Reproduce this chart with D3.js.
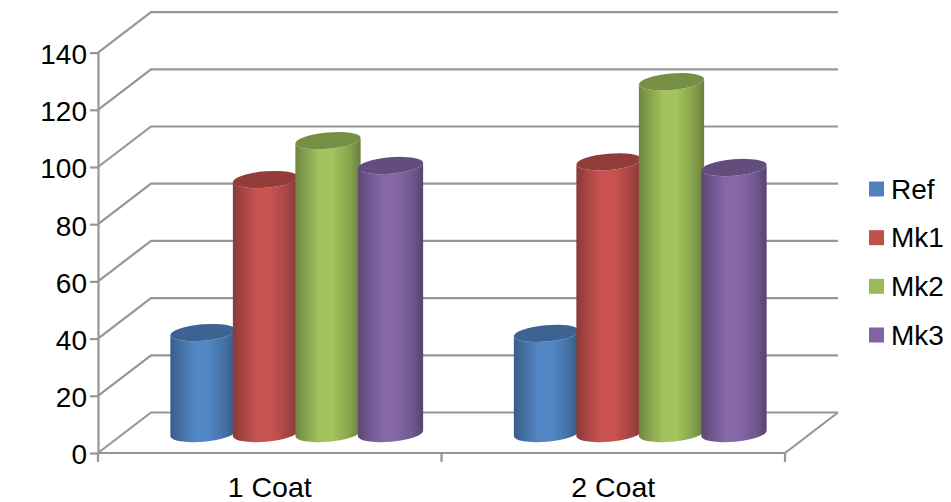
<!DOCTYPE html>
<html>
<head>
<meta charset="utf-8">
<script src="https://cdn.jsdelivr.net/npm/d3@7/dist/d3.min.js"></script>
<style>
  html, body { margin: 0; padding: 0; background: #fff; }
  svg { display: block; }
  text { font-family: "Liberation Sans", Arial, sans-serif; fill: #000; }
</style>
</head>
<body>
<svg id="chart" width="951" height="502"></svg>
<script>
// Coating results per marker
const categories = ["1 Coat", "2 Coat"];
const seriesNames = ["Ref", "Mk1", "Mk2", "Mk3"];
const seriesColors = ["#4f81bd", "#c0504d", "#9bbb59", "#8064a2"];
const refValues = [35.3, 35];
const mk1Values = [88.8, 95];
const mk2Values = [102.4, 123];
const mk3Values = [93.7, 93];
const yTicks = [0, 20, 40, 60, 80, 100, 120, 140];

const seriesValues = [refValues, mk1Values, mk2Values, mk3Values];

// Plot frame and the oblique offset of the back wall
const frontLeft = 98, frontRight = 785, frontBottom = 453, frontTop = 52.6;
const depthX = 53, depthY = 40.5;
const gridColor = "#969696";
const labelSize = 28;

const svg = d3.select("#chart");
const y = d3.scaleLinear().domain([0, 140]).range([frontBottom, frontTop]);
const xCat = d3.scaleBand().domain(categories).range([frontLeft, frontRight]);
const xSeries = d3.scaleBand().domain(seriesNames)
  .range([0, xCat.bandwidth()]).paddingOuter(0.748).paddingInner(0);

// Walls and floor
const grid = svg.append("g").attr("fill", "none").attr("stroke", gridColor).attr("stroke-width", 2.2);
yTicks.forEach(t => {
  grid.append("path").attr("d", d3.line()([
    [frontLeft, y(t)],
    [frontLeft + depthX, y(t) - depthY],
    [frontRight + depthX, y(t) - depthY]
  ]));
});
grid.append("path").attr("d", d3.line()([
  [frontLeft, frontBottom], [frontRight, frontBottom],
  [frontRight + depthX, frontBottom - depthY]
]));

// Value axis
const yAxis = svg.append("g")
  .attr("transform", `translate(${frontLeft},0)`)
  .call(d3.axisLeft(y).tickValues(yTicks).tickSize(8).tickPadding(3).tickSizeOuter(0));
yAxis.select(".domain").attr("stroke", gridColor).attr("stroke-width", 2.2);
yAxis.selectAll(".tick line").attr("stroke", gridColor).attr("stroke-width", 2.2);
yAxis.selectAll(".tick text")
  .attr("font-size", labelSize)
  .attr("dy", "0.39em")
  .style("font-family", '"Liberation Sans", Arial, sans-serif');

// Category axis: separators sit between the bands
const xTicks = svg.append("g").attr("stroke", gridColor).attr("stroke-width", 2.2);
[...categories.map(c => xCat(c)), frontRight].forEach(px => {
  xTicks.append("line").attr("x1", px).attr("x2", px).attr("y1", frontBottom).attr("y2", frontBottom + 9);
});
svg.append("g").selectAll("text").data(categories).join("text")
  .attr("x", c => xCat(c) + xCat.bandwidth() / 2)
  .attr("y", 497)
  .attr("text-anchor", "middle")
  .attr("font-size", 28.5)
  .text(c => c);

// Horizontal shading for the cylinder walls
const defs = svg.append("defs");
seriesNames.forEach((name, i) => {
  const base = d3.color(seriesColors[i]);
  const stops = [
    [0, base.darker(0.95)],
    [0.14, base.darker(0.45)],
    [0.38, base.brighter(0.12)],
    [0.58, base.brighter(0.12)],
    [0.84, base.darker(0.4)],
    [1, base.darker(1.1)]
  ];
  defs.append("linearGradient").attr("id", "wall-" + name)
    .selectAll("stop").data(stops).join("stop")
    .attr("offset", d => d[0])
    .attr("stop-color", d => d[1].formatHex());
});

// Cylinders, painted left to right so each overlaps the previous one
const tiltDeg = -5;
const tilt = tiltDeg * Math.PI / 180;
const ry = 8.2;
const bars = svg.append("g");
categories.forEach((cat, c) => {
  seriesNames.forEach((name, s) => {
    const rx = xSeries.bandwidth() / 2 + 1.5;
    const cx = xCat(cat) + xSeries(name) + rx + depthX / 2 - 1;
    const cyBase = y(0) - 19.5;
    const cyTop = cyBase - (y(0) - y(seriesValues[s][c]));
    const dx = rx * Math.cos(tilt), dy = rx * Math.sin(tilt);
    const arc = sweep => `A${rx},${ry} ${tiltDeg} 0 ${sweep}`;
    const wall = `M${cx - dx},${cyTop - dy}` +
      `L${cx - dx},${cyBase - dy}` +
      `${arc(0)} ${cx + dx},${cyBase + dy}` +
      `L${cx + dx},${cyTop + dy}` +
      `${arc(1)} ${cx - dx},${cyTop - dy}Z`;
    bars.append("path").attr("d", wall).attr("fill", `url(#wall-${name})`);
    bars.append("ellipse")
      .attr("rx", rx).attr("ry", ry)
      .attr("transform", `translate(${cx},${cyTop}) rotate(${tiltDeg})`)
      .attr("fill", d3.color(seriesColors[s]).darker(0.75).formatHex());
  });
});

// Legend
const legendY = d3.scalePoint().domain(seriesNames).range([189, 335]);
const legend = svg.append("g").selectAll("g").data(seriesNames).join("g")
  .attr("transform", d => `translate(869,${legendY(d)})`);
legend.append("rect").attr("x", 0).attr("y", -7.5).attr("width", 15).attr("height", 15)
  .attr("fill", (d, i) => seriesColors[i]);
legend.append("text").attr("x", 22).attr("y", 9.5).attr("font-size", labelSize).text(d => d);
</script>
</body>
</html>
